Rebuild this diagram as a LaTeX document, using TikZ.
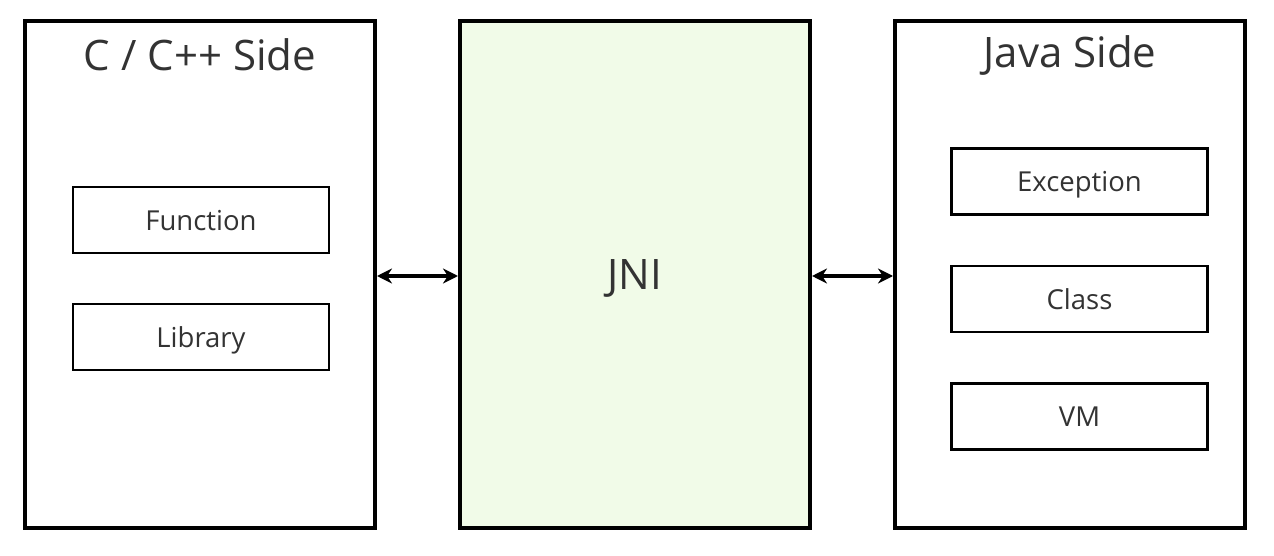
\documentclass[tikz,border=0pt]{standalone}
\usepackage{fontspec}
\setmainfont{Open Sans}
\usetikzlibrary{arrows.meta}
\definecolor{jnigreen}{HTML}{F1FBE8}
\definecolor{txtgray}{HTML}{333333}
\tikzset{
  sidebox/.style={draw,line width=4pt,minimum width=350pt,minimum height=507pt,inner sep=0pt},
  partbox/.style={draw,line width=2.2pt,minimum width=256pt,minimum height=66pt,inner sep=0pt,
    text=txtgray,font=\fontsize{27.5}{32}\selectfont,text height=20pt,text depth=0pt},
  sidetitle/.style={text=txtgray,font=\fontsize{42}{48}\selectfont},
  link/.style={{Stealth[length=15pt,width=15pt]}-{Stealth[length=15pt,width=15pt]},line width=4pt}
}
\begin{document}
\begin{tikzpicture}[x=1pt,y=-1pt]
\useasboundingbox[fill=white] (0,0) rectangle (1274,556);
% three sides
\node[sidebox] (cside) at (200,274.5) {};
\node[sidebox,fill=jnigreen] (jni) at (635,274.5) {};
\node[sidebox] (jside) at (1070,274.5) {};
\node[sidetitle] (ctitle) at (200,55) {C / C++ Side};
\node[sidetitle] (jtitle) at (1070,55) {Java Side};
\node[text=txtgray,font=\fontsize{42}{48}\selectfont] (jnilabel) at (635,278) {JNI};
% parts
\node[partbox] (func) at (201,220) {Function};
\node[partbox] (lib) at (201,337) {Library};
\node[partbox] (exc) at (1079.5,181.5) {Exception};
\node[partbox] (cls) at (1079.5,299) {Class};
\node[partbox] (vm) at (1079.5,416.5) {VM};
% links
\draw[link] ([yshift=-1.5pt]cside.east) -- ([yshift=-1.5pt]jni.west);
\draw[link] ([yshift=-1.5pt]jni.east) -- ([yshift=-1.5pt]jside.west);
\end{tikzpicture}
\end{document}
